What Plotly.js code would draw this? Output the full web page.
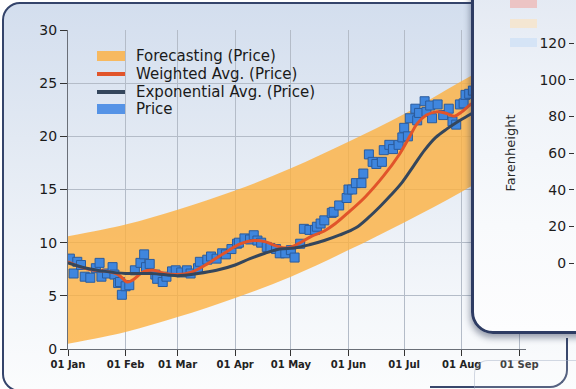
<!DOCTYPE html>
<html>
<head>
<meta charset="utf-8">
<script src="https://cdn.plot.ly/plotly-3.0.1.min.js"></script>
<style>
  html, body { margin: 0; padding: 0; width: 576px; height: 389px; overflow: hidden; background: #ffffff; }
  #win { position: absolute; left: 2px; top: 2px; width: 720px; height: 386px; border: 2px solid #34446b;
         border-radius: 18px; z-index: 0;
         background: linear-gradient(to bottom, #d3deee 0%, #e2e9f3 35%, #f3f6fa 75%, #fbfcfd 100%); }
  #chart { position: absolute; left: 0; top: 0; width: 576px; height: 389px; z-index: 1; }
  #back { position: absolute; left: 430px; top: 338px; width: 136px; height: 48px; z-index: 2;
          border-right: 2px solid #39476c; border-bottom: 2px solid #39476c; border-bottom-right-radius: 18px; }
  #glass { position: absolute; left: 474px; top: 360px; width: 130px; height: 40px; z-index: 2;
           border: 1px solid rgba(160,170,192,0.45); border-radius: 14px; background: rgba(255,255,255,0.15); }
  #panel { position: absolute; left: 471px; top: -25px; width: 160px; height: 353px; z-index: 3;
           border: 3px solid #2e3c63; border-radius: 22px;
           box-shadow: -1px 4px 6px rgba(40,50,80,0.45);
           background: linear-gradient(to bottom, #e2e8f2 0%, #eef2f8 30%, #f8fafc 70%, #fdfdfe 100%); }
  .sw { position: absolute; left: 510px; width: 27px; height: 9px; z-index: 4; }
  #panelChart { position: absolute; left: 473px; top: 0; width: 300px; height: 389px; z-index: 5; }
</style>
</head>
<body>
<div id="win"></div>
<div id="chart"></div>
<div id="back"></div>
<div id="glass"></div>
<div id="panel"></div>
<div class="sw" style="top:-1px;background:#ecc4c4;"></div>
<div class="sw" style="top:19px;background:#f4e6d2;"></div>
<div class="sw" style="top:38px;background:#d5e4f6;"></div>
<div id="panelChart"></div>
<script>
// Month ticks along the time axis
const monthTicks = ['2011-01-01','2011-02-01','2011-03-01','2011-04-01','2011-05-01',
                    '2011-06-01','2011-07-01','2011-08-01','2011-09-01'];

// Forecasting band (lower / upper bound of the price forecast)
const bandDates = monthTicks;
const bandLower = [0.5, 1.6, 3.0, 4.8, 6.8, 9.3, 11.9, 14.8, 18.0];
const bandUpper = [10.6, 11.7, 13.1, 14.9, 17.0, 19.5, 22.1, 25.2, 28.3];

// Observed price
const priceDates = [
  '2011-01-02','2011-01-04','2011-01-06','2011-01-08','2011-01-10','2011-01-13','2011-01-16','2011-01-18',
  '2011-01-19','2011-01-22','2011-01-25','2011-01-26','2011-01-28','2011-01-29','2011-01-30','2011-02-01',
  '2011-02-03','2011-02-06','2011-02-09','2011-02-11','2011-02-12','2011-02-14','2011-02-17','2011-02-18',
  '2011-02-21','2011-02-23','2011-02-26','2011-02-28','2011-03-03','2011-03-06','2011-03-08','2011-03-12',
  '2011-03-13','2011-03-17','2011-03-19','2011-03-22','2011-03-25','2011-03-27','2011-03-30','2011-04-02',
  '2011-04-03','2011-04-06','2011-04-09','2011-04-11','2011-04-13','2011-04-15','2011-04-18','2011-04-20',
  '2011-04-23','2011-04-25','2011-04-28','2011-05-01','2011-05-03','2011-05-06','2011-05-08','2011-05-11',
  '2011-05-14','2011-05-15','2011-05-17','2011-05-19','2011-05-23','2011-05-24','2011-05-27','2011-05-31',
  '2011-06-01','2011-06-03','2011-06-05','2011-06-08','2011-06-09','2011-06-12','2011-06-14','2011-06-16',
  '2011-06-19','2011-06-20','2011-06-23','2011-06-25','2011-06-28','2011-06-30','2011-07-01','2011-07-03',
  '2011-07-04','2011-07-07','2011-07-08','2011-07-09','2011-07-12','2011-07-13','2011-07-15','2011-07-16',
  '2011-07-19','2011-07-22','2011-07-25','2011-07-27','2011-07-29','2011-07-31','2011-08-02','2011-08-03',
  '2011-08-05','2011-08-07'
];
const priceValues = [
  8.5, 7.1, 8.2, 7.9, 6.8, 6.7, 7.6, 8.1,
  6.8, 7.1, 7.7, 7.0, 6.2, 6.3, 5.1, 5.9,
  6.0, 7.4, 8.1, 8.9, 7.7, 8.0, 7.0, 6.6,
  6.3, 6.8, 7.3, 7.4, 7.2, 7.4, 7.1, 7.6,
  8.2, 8.4, 8.7, 8.5, 9.0, 8.9, 9.4, 9.9,
  10.0, 10.4, 10.3, 10.7, 10.2, 10.0, 9.6, 9.5,
  9.4, 9.0, 9.0, 9.3, 8.6, 9.9, 11.3, 11.2,
  11.2, 11.5, 11.8, 12.1, 12.8, 12.9, 13.5, 14.2,
  15.0, 15.0, 15.6, 15.6, 16.5, 18.3, 17.6, 17.4,
  17.6, 18.7, 19.2, 18.8, 19.2, 19.9, 20.8, 20.0,
  21.7, 22.6, 21.5, 22.2, 23.3, 22.3, 22.9, 21.7,
  23.0, 22.0, 22.6, 21.4, 21.1, 23.0, 23.1, 23.9,
  24.0, 24.3
];

// Weighted moving average of the price
const weightedDates = [
  '2011-01-01','2011-01-08','2011-01-15','2011-01-22','2011-01-28','2011-02-02','2011-02-05','2011-02-11',
  '2011-02-16','2011-02-22','2011-03-01','2011-03-08','2011-03-16','2011-03-26','2011-04-04','2011-04-11',
  '2011-04-17','2011-04-23','2011-04-29','2011-05-05','2011-05-12','2011-05-19','2011-05-25','2011-05-31',
  '2011-06-10','2011-06-20','2011-06-28','2011-07-04','2011-07-08','2011-07-13','2011-07-18','2011-07-23',
  '2011-07-28','2011-08-01','2011-08-05','2011-08-09'
];
const weightedValues = [
  8.2, 7.7, 7.4, 7.3, 7.0, 6.3, 6.5, 7.3,
  7.4, 7.1, 7.0, 7.2, 7.9, 9.0, 9.9, 10.2,
  10.1, 9.7, 9.5, 9.9, 10.6, 11.1, 11.8, 12.7,
  14.3, 16.3, 18.2, 20.0, 21.2, 22.0, 22.3, 22.2,
  21.9, 22.3, 22.9, 23.4
];

// Exponential moving average of the price
const expDates = [
  '2011-01-01','2011-01-11','2011-01-21','2011-02-01','2011-02-15','2011-03-01','2011-03-12','2011-03-22',
  '2011-04-01','2011-04-09','2011-04-17','2011-04-25','2011-05-03','2011-05-11','2011-05-19','2011-05-27',
  '2011-06-05','2011-06-12','2011-06-18','2011-06-24','2011-06-30','2011-07-06','2011-07-12','2011-07-18',
  '2011-07-24','2011-07-30','2011-08-05','2011-08-09'
];
const expValues = [
  8.1, 7.6, 7.3, 7.1, 7.1, 6.9, 7.1, 7.4,
  7.9, 8.5, 9.0, 9.4, 9.5, 9.8, 10.2, 10.7,
  11.4, 12.4, 13.4, 14.5, 15.7, 17.2, 18.7, 19.9,
  20.7, 21.4, 22.0, 22.4
];

const seriesNames = ['Forecasting (Price)', 'Weighted Avg. (Price)', 'Exponential Avg. (Price)', 'Price'];

const C_BAND = 'rgba(252,176,64,0.80)';
const C_WEIGHTED = '#e1542a';
const C_EXP = '#34465c';
const C_PRICE = '#3f86de';
const C_PRICE_EDGE = '#2a5c9e';

const traces = [
  { x: bandDates, y: bandLower, type: 'scatter', mode: 'lines', line: { width: 0, shape: 'spline' },
    hoverinfo: 'skip', showlegend: false },
  { x: bandDates, y: bandUpper, type: 'scatter', mode: 'lines', fill: 'tonexty', fillcolor: C_BAND,
    line: { width: 0, shape: 'spline' }, name: seriesNames[0], showlegend: false },
  { x: priceDates, y: priceValues, type: 'scatter', mode: 'markers', name: seriesNames[3], showlegend: false,
    marker: { symbol: 'square', size: 9, color: C_PRICE, line: { color: C_PRICE_EDGE, width: 1 } } },
  { x: weightedDates, y: weightedValues, type: 'scatter', mode: 'lines', name: seriesNames[1], showlegend: false,
    line: { color: C_WEIGHTED, width: 3, shape: 'spline', smoothing: 1.0 } },
  { x: expDates, y: expValues, type: 'scatter', mode: 'lines', name: seriesNames[2], showlegend: false,
    line: { color: C_EXP, width: 3, shape: 'spline', smoothing: 1.0 } }
];

// Plot area in page pixels, used to place the in-chart legend
const PL = 68, PR = 526, PT = 30, PB = 349;
const px = v => (v - PL) / (PR - PL);
const py = v => (PB - v) / (PB - PT);

const legendRows = [
  { name: seriesNames[0], kind: 'box', color: 'rgba(252,178,70,0.85)', y: 56 },
  { name: seriesNames[1], kind: 'line', color: C_WEIGHTED, y: 74 },
  { name: seriesNames[2], kind: 'line', color: C_EXP, y: 92 },
  { name: seriesNames[3], kind: 'box', color: '#5593e6', y: 109 }
];

const shapes = [];
const annotations = [];
legendRows.forEach(r => {
  const h = r.kind === 'box' ? 5 : 2;
  shapes.push({ type: 'rect', xref: 'paper', yref: 'paper', x0: px(97), x1: px(125),
                y0: py(r.y + h), y1: py(r.y - h), fillcolor: r.color, line: { width: 0 } });
  annotations.push({ xref: 'paper', yref: 'paper', x: px(134), y: py(r.y), xanchor: 'left', yanchor: 'middle',
                     text: r.name, showarrow: false, font: { size: 15, color: '#1a1a1a', family: 'DejaVu Sans' } });
});

const layout = {
  width: 576, height: 389,
  margin: { l: PL, r: 576 - PR, t: PT, b: 389 - PB },
  paper_bgcolor: 'rgba(0,0,0,0)', plot_bgcolor: 'rgba(0,0,0,0)',
  font: { family: 'DejaVu Sans', color: '#1c1c1c' },
  showlegend: false,
  xaxis: {
    type: 'date', range: ['2011-01-01', '2011-09-04 14:00'],
    tickvals: monthTicks, tickformat: '%d %b',
    ticks: 'outside', ticklen: 6, tickcolor: '#333',
    tickfont: { family: 'DejaVu Sans', size: 10, color: '#222', weight: 'bold' },
    showgrid: true, gridcolor: '#b4bcc8', gridwidth: 1,
    showline: true, linecolor: '#6a6f78', linewidth: 1, zeroline: false
  },
  yaxis: {
    range: [0, 30], dtick: 5, ticks: 'outside', ticklen: 7, tickcolor: '#333',
    tickfont: { family: 'DejaVu Sans', size: 14, color: '#1a1a1a' },
    showgrid: true, gridcolor: '#b4bcc8', gridwidth: 1,
    showline: true, linecolor: '#6a6f78', linewidth: 1, zeroline: false
  },
  shapes: shapes,
  annotations: annotations
};

Plotly.newPlot('chart', traces, layout, { staticPlot: true, displayModeBar: false });

// Temperature panel axis
const panelRange = [0, 120];
Plotly.newPlot('panelChart', [{ x: [], y: [], type: 'scatter', mode: 'markers', showlegend: false }], {
  width: 300, height: 389,
  margin: { l: 102, r: 10, t: 43, b: 126 },
  paper_bgcolor: 'rgba(0,0,0,0)', plot_bgcolor: 'rgba(0,0,0,0)',
  font: { family: 'DejaVu Sans', color: '#1c1c1c' },
  xaxis: { visible: false, range: [0, 1] },
  yaxis: {
    range: panelRange, dtick: 20, ticks: 'outside', ticklen: 5, tickcolor: '#333',
    tickfont: { size: 14, color: '#1c1c1c' },
    showgrid: false, zeroline: false, showline: false,
    title: { text: 'Farenheight', font: { size: 13, color: '#2a2a2a' }, standoff: 20 }
  }
}, { staticPlot: true, displayModeBar: false });
</script>
</body>
</html>
